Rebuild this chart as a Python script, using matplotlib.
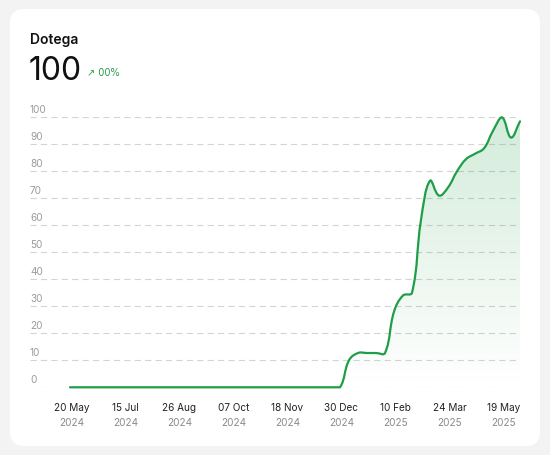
import numpy as np
import matplotlib
matplotlib.use("Agg")
import matplotlib.pyplot as plt
from matplotlib.path import Path
from matplotlib.patches import PathPatch, FancyBboxPatch
from matplotlib.colors import LinearSegmentedColormap

plt.rcParams['font.family'] = ['Inter', 'DejaVu Sans']
plt.rcParams['lines.scale_dashes'] = False

# ---------------- data ----------------
title = "Dotega"
headline = "100"
change = "↗ 00%"
values = [0] * 31 + [10, 12.7, 12.7, 12.7, 12.7, 28, 34, 35, 62, 76.5,
                     71, 74, 80, 84.5, 86.5, 88.5, 95, 100, 92.5, 98.5]
tick_idx = [0, 6, 12, 18, 24, 30, 36, 42, 48]
tick_day = ["20 May", "15 Jul", "26 Aug", "07 Oct", "18 Nov", "30 Dec",
            "10 Feb", "24 Mar", "19 May"]
tick_year = ["2024", "2024", "2024", "2024", "2024", "2024",
             "2025", "2025", "2025"]
yticks = [0, 10, 20, 30, 40, 50, 60, 70, 80, 90, 100]

GREEN = "#1e9e47"
W, H, DPI = 550, 455, 100

fig = plt.figure(figsize=(W / DPI, H / DPI), dpi=DPI)
fig.patch.set_facecolor("#f3f3f3")

# card
card = FancyBboxPatch((10 / W, 1 - 446 / H), 530 / W, 437 / H,
                      boxstyle="round,pad=0,rounding_size=0.026",
                      transform=fig.transFigure, facecolor="white",
                      edgecolor="none", mutation_aspect=W / H, zorder=-5)
fig.patches.append(card)

fig.text(30 / W, 1 - 40 / H, title, fontsize=10, fontweight="semibold",
         color="#111111", ha="left", va="center")
fig.text(29 / W, 1 - 72 / H, headline, fontsize=23, fontweight="normal",
         color="#111111", ha="left", va="center")
fig.text(87 / W, 1 - 72.5 / H, change, fontsize=7, color="#2a9d4f",
         ha="left", va="center", family=['DejaVu Sans'])

# axes
left, right = 30, 520
top, bottom = 117.3, 387.3
ax = fig.add_axes([left / W, 1 - bottom / H, (right - left) / W, (bottom - top) / H])
ax.set_zorder(2)
ax.set_facecolor("none")
x = np.arange(len(values), dtype=float)
y = np.array(values, dtype=float)
xmin = -40 / 9.0
xmax = len(values) - 1
ax.set_xlim(xmin, xmax)
ax.set_ylim(0, 100)
for s in ax.spines.values():
    s.set_visible(False)
ax.set_xticks([])
ax.set_yticks([])

sx = (right - left) / (xmax - xmin)
sy = (bottom - top) / 100.0

# grid lines + y labels
for v in yticks:
    ax.axhline(v, color="#d4d4d4", lw=0.8, ls=(0, (4.5, 3)), zorder=1)
    ax.annotate(str(v), xy=(0, v), xycoords=("axes fraction", "data"),
                xytext=(0, 5.2), textcoords="offset points",
                ha="left", va="center", fontsize=7.2, color="#9b9b9b",
                annotation_clip=False)

# x labels
for i, d, yr in zip(tick_idx, tick_day, tick_year):
    ax.annotate(d, xy=(i, 0), xycoords="data", xytext=(1, -14.7),
                textcoords="offset points", ha="center", va="center",
                fontsize=7.2, color="#222222", annotation_clip=False)
    ax.annotate(yr, xy=(i, 0), xycoords="data", xytext=(1, -25.5),
                textcoords="offset points", ha="center", va="center",
                fontsize=7.2, color="#8a8a8a", annotation_clip=False)


# chart.js-like spline with control point capping
def spline_path(xs, ys, tension=0.4):
    px = xs * sx
    py = ys * sy
    n = len(xs)
    cpp = np.zeros((n, 2))
    cpn = np.zeros((n, 2))
    for i in range(n):
        p0 = np.array([px[max(i - 1, 0)], py[max(i - 1, 0)]])
        p1 = np.array([px[i], py[i]])
        p2 = np.array([px[min(i + 1, n - 1)], py[min(i + 1, n - 1)]])
        d01 = np.hypot(*(p1 - p0))
        d12 = np.hypot(*(p2 - p1))
        tot = d01 + d12
        s01 = d01 / tot if tot else 0
        s12 = d12 / tot if tot else 0
        cpp[i] = p1 - tension * s01 * (p2 - p0)
        cpn[i] = p1 + tension * s12 * (p2 - p0)
    cpp[:, 1] = np.clip(cpp[:, 1], 0, 100 * sy)
    cpn[:, 1] = np.clip(cpn[:, 1], 0, 100 * sy)
    cpp[:, 0] /= sx; cpn[:, 0] /= sx
    cpp[:, 1] /= sy; cpn[:, 1] /= sy
    verts = [(xs[0], ys[0])]
    codes = [Path.MOVETO]
    for i in range(n - 1):
        verts += [tuple(cpn[i]), tuple(cpp[i + 1]), (xs[i + 1], ys[i + 1])]
        codes += [Path.CURVE4] * 3
    return verts, codes


verts, codes = spline_path(x, y)
line = PathPatch(Path(verts, codes), facecolor="none", edgecolor=GREEN,
                 lw=1.6, zorder=4, capstyle="round", joinstyle="round",
                 clip_on=False)
ax.add_patch(line)

fverts = verts + [(x[-1], 0), (x[0], 0), verts[0]]
fcodes = codes + [Path.LINETO, Path.LINETO, Path.CLOSEPOLY]
fill = PathPatch(Path(fverts, fcodes), facecolor="none", edgecolor="none")
ax.add_patch(fill)
cmap = LinearSegmentedColormap.from_list(
    "g", [(0.13, 0.62, 0.28, 0.0), (0.13, 0.62, 0.28, 0.2)])
grad = np.linspace(0, 1, 256).reshape(-1, 1)
im = ax.imshow(grad, cmap=cmap, origin="lower", aspect="auto",
               extent=(xmin, xmax, 0, 100), zorder=2, interpolation="bilinear")
im.set_clip_path(fill)

fig.savefig("out.png", dpi=DPI)
